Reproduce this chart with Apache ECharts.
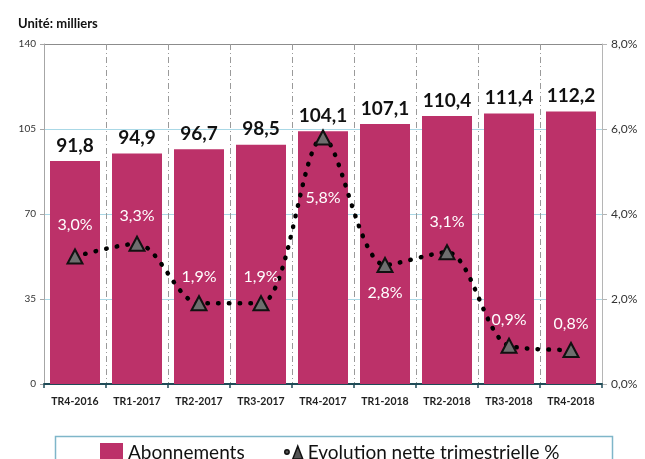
<!DOCTYPE html>
<html>
<head>
<meta charset="utf-8">
<script src="https://cdn.jsdelivr.net/npm/echarts@6/dist/echarts.min.js"></script>
<style>
  html, body { margin: 0; padding: 0; background: #fff; }
  #chart { width: 645px; height: 459px; }
</style>
</head>
<body>
<div id="chart"></div>
<script>
// Quarterly subscriptions (thousands) and net quarterly change (%)
var quarters = ['TR4-2016', 'TR1-2017', 'TR2-2017', 'TR3-2017', 'TR4-2017', 'TR1-2018', 'TR2-2018', 'TR3-2018', 'TR4-2018'];
var subscriptions = [91.8, 94.9, 96.7, 98.5, 104.1, 107.1, 110.4, 111.4, 112.2];
var netChange = [3.0, 3.3, 1.9, 1.9, 5.8, 2.8, 3.1, 0.9, 0.8];
var changeLabelSide = ['top', 'top', 'top', 'top', 'bottom', 'bottom', 'top', 'top', 'top'];
var changeLabelGap = [16, 12, 10, 10, 44, 12, 14, 10, 10];

var FONT = 'Lato, "Open Sans", sans-serif';
var BAR_COLOR = '#BC3169';
var fr = function (v, d) { return v.toFixed(d).replace('.', ','); };

var chart = echarts.init(document.getElementById('chart'), null, { renderer: 'canvas' });

var lineData = netChange.map(function (v, i) {
  return {
    value: v,
    label: { position: changeLabelSide[i], distance: changeLabelGap[i] }
  };
});

chart.setOption({
  animation: false,
  textStyle: { fontFamily: FONT },
  title: {
    text: 'Unité: milliers',
    left: 13, top: 12,
    textStyle: { fontFamily: FONT, fontSize: 13, fontWeight: 'bold', color: '#111' }
  },
  grid: { left: 44, right: 43, top: 44, bottom: 75 },
  legend: [
    {
      data: ['Abonnements'],
      left: 95, top: 438,
      itemWidth: 23, itemHeight: 19,
      icon: 'rect',
      textStyle: { fontFamily: FONT, fontSize: 19, color: '#111' }
    },
    {
      data: [{
        name: 'Evolution nette trimestrielle %',
        icon: 'path://M0,9 a2.2,2.2 0 1,0 4.4,0 a2.2,2.2 0 1,0 -4.4,0 Z M8,16 L13,3 L18,16 Z'
      }],
      left: 279, top: 438,
      itemWidth: 18, itemHeight: 17,
      itemStyle: { color: '#555', borderColor: '#111', borderWidth: 1.5 },
      textStyle: { fontFamily: FONT, fontSize: 19, color: '#111' }
    }
  ],
  graphic: [{
    type: 'rect',
    left: 53, top: 434,
    shape: { width: 557, height: 40 },
    style: { fill: 'none', stroke: '#7fb6c9', lineWidth: 1.5 },
    silent: true
  }],
  xAxis: {
    type: 'category',
    data: quarters,
    boundaryGap: true,
    axisLine: { lineStyle: { color: '#1f4b57', width: 2 } },
    axisTick: { show: true, interval: 0, length: 4, lineStyle: { color: '#1f4b57', width: 1.5 } },
    axisLabel: { interval: 0, margin: 12, fontFamily: FONT, fontSize: 10.5, fontWeight: 'bold', color: '#222' },
    splitLine: { show: true, interval: 0, lineStyle: { color: '#9a9a9a', width: 1, type: [6, 3, 1, 3] } }
  },
  yAxis: [
    {
      type: 'value',
      min: 0, max: 140, interval: 35,
      axisLine: { show: true, lineStyle: { color: '#a6a6a6', width: 1 } },
      axisTick: { show: true, length: 4, lineStyle: { color: '#a6a6a6' } },
      axisLabel: { margin: 8, fontFamily: FONT, fontSize: 10, color: '#333' },
      splitLine: { show: true, lineStyle: { color: ['#a6a6a6', '#aad8e6', '#aad8e6', '#aad8e6', '#8c8c8c'], width: 1 } }
    },
    {
      type: 'value',
      min: 0, max: 8, interval: 2,
      position: 'right',
      axisLine: { show: true, lineStyle: { color: '#b5b5b5', width: 1 } },
      axisTick: { show: true, length: 5, lineStyle: { color: '#b5b5b5' } },
      axisLabel: { margin: 9, fontFamily: FONT, fontSize: 12, color: '#333', formatter: function (v) { return fr(v, 1) + '%'; } },
      splitLine: { show: false }
    }
  ],
  series: [
    {
      name: 'Abonnements',
      type: 'bar',
      data: subscriptions,
      barWidth: 50,
      itemStyle: { color: BAR_COLOR },
      label: {
        show: true, position: 'top', distance: 6,
        fontFamily: FONT, fontSize: 19, fontWeight: 'bold', color: '#111',
        formatter: function (p) { return fr(p.value, 1); }
      },
      z: 2
    },
    {
      name: 'Evolution nette trimestrielle %',
      type: 'line',
      yAxisIndex: 1,
      data: lineData,
      smooth: 0.3,
      symbol: 'triangle',
      symbolSize: [15, 14],
      itemStyle: { color: '#6e6e6e', borderColor: '#111', borderWidth: 2 },
      lineStyle: { color: '#000', width: 4.5, type: [0.5, 10.2], cap: 'round' },
      label: {
        show: true,
        fontFamily: FONT, fontSize: 16, color: '#fff',
        formatter: function (p) { return fr(p.value, 1) + '%'; }
      },
      z: 5
    }
  ]
});
</script>
</body>
</html>
